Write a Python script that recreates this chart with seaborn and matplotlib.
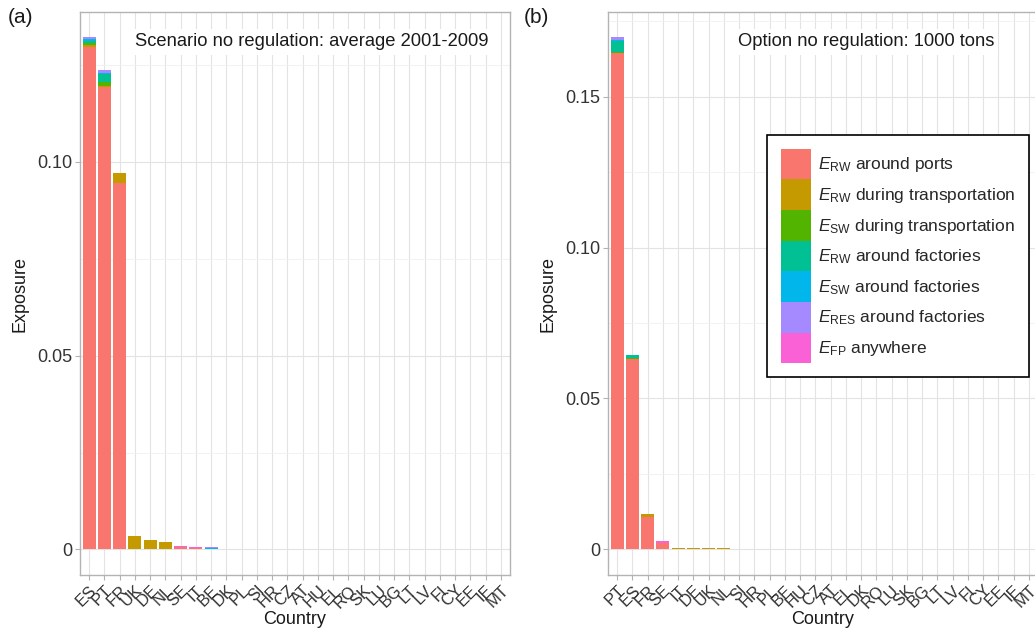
import matplotlib
matplotlib.use("Agg")
import matplotlib.pyplot as plt
import numpy as np
import pandas as pd
import seaborn as sns
from matplotlib.patches import Patch
from matplotlib.ticker import MultipleLocator, FixedLocator

# ---------------- data ----------------
countries_a = ["ES", "PT", "FR", "UK", "DE", "NL", "SE", "IT", "BE", "DK", "PL", "SI", "HR", "CZ",
               "AT", "HU", "EL", "RO", "SK", "LU", "BG", "LT", "LV", "FI", "CY", "EE", "IE", "MT"]
countries_b = ["PT", "ES", "FR", "SE", "IT", "DE", "UK", "NL", "SI", "HR", "PL", "BE", "HU", "CZ",
               "AT", "EL", "DK", "RO", "LU", "SK", "BG", "LT", "LV", "FI", "CY", "EE", "IE", "MT"]

components = ["RW around ports", "RW during transportation", "SW during transportation",
              "RW around factories", "SW around factories", "RES around factories", "FP anywhere"]
legend_labels = [r"$E_{\mathrm{RW}}$ around ports",
                 r"$E_{\mathrm{RW}}$ during transportation",
                 r"$E_{\mathrm{SW}}$ during transportation",
                 r"$E_{\mathrm{RW}}$ around factories",
                 r"$E_{\mathrm{SW}}$ around factories",
                 r"$E_{\mathrm{RES}}$ around factories",
                 r"$E_{\mathrm{FP}}$ anywhere"]
colors = ["#F8766D", "#C49A00", "#53B400", "#00C094", "#00B6EB", "#A58AFF", "#FB61D7"]

# Panel (a): Scenario no regulation, average 2001-2009
rw_ports_a = [0.1296, 0.1193, 0.0946, 0, 0, 0, 0.0005, 0.0003, 0, 0, 0, 0, 0, 0,
              0, 0, 0, 0, 0, 0, 0, 0, 0, 0, 0, 0, 0, 0]
rw_transp_a = [0.0005, 0.0003, 0.0026, 0.0034, 0.0024, 0.0019, 0, 0.0001, 0, 0, 0, 0, 0, 0,
               0, 0, 0, 0, 0, 0, 0, 0, 0, 0, 0, 0, 0, 0]
sw_transp_a = [0.0007, 0.0010, 0, 0, 0, 0, 0, 0, 0, 0, 0, 0, 0, 0,
               0, 0, 0, 0, 0, 0, 0, 0, 0, 0, 0, 0, 0, 0]
rw_fact_a = [0.0004, 0.0022, 0, 0, 0, 0, 0, 0, 0.0002, 0, 0, 0, 0, 0,
             0, 0, 0, 0, 0, 0, 0, 0, 0, 0, 0, 0, 0, 0]
sw_fact_a = [0.0005, 0.0002, 0, 0, 0, 0, 0, 0, 0.0002, 0, 0, 0, 0, 0,
             0, 0, 0, 0, 0, 0, 0, 0, 0, 0, 0, 0, 0, 0]
res_fact_a = [0.0005, 0.0007, 0, 0, 0, 0, 0, 0, 0.0001, 0, 0, 0, 0, 0,
              0, 0, 0, 0, 0, 0, 0, 0, 0, 0, 0, 0, 0, 0]
fp_any_a = [0, 0, 0, 0, 0, 0, 0.0003, 0.0001, 0, 0, 0, 0, 0, 0,
            0, 0, 0, 0, 0, 0, 0, 0, 0, 0, 0, 0, 0, 0]

# Panel (b): Option no regulation, 1000 tons
rw_ports_b = [0.1645, 0.0631, 0.0106, 0.0022, 0.0001, 0, 0, 0, 0, 0, 0, 0, 0, 0,
              0, 0, 0, 0, 0, 0, 0, 0, 0, 0, 0, 0, 0, 0]
rw_transp_b = [0.0001, 0, 0.0010, 0, 0.0002, 0.0004, 0.0004, 0.0004, 0, 0, 0, 0, 0, 0,
               0, 0, 0, 0, 0, 0, 0, 0, 0, 0, 0, 0, 0, 0]
sw_transp_b = [0.0004, 0.0004, 0, 0, 0, 0, 0, 0, 0, 0, 0, 0, 0, 0,
               0, 0, 0, 0, 0, 0, 0, 0, 0, 0, 0, 0, 0, 0]
rw_fact_b = [0.0036, 0.0008, 0, 0, 0, 0, 0, 0, 0, 0, 0, 0, 0, 0,
             0, 0, 0, 0, 0, 0, 0, 0, 0, 0, 0, 0, 0, 0]
sw_fact_b = [0.0001, 0, 0, 0, 0, 0, 0, 0, 0, 0, 0, 0, 0, 0,
             0, 0, 0, 0, 0, 0, 0, 0, 0, 0, 0, 0, 0, 0]
res_fact_b = [0.0012, 0, 0, 0, 0, 0, 0, 0, 0, 0, 0, 0, 0, 0,
              0, 0, 0, 0, 0, 0, 0, 0, 0, 0, 0, 0, 0, 0]
fp_any_b = [0, 0, 0, 0.0006, 0, 0, 0, 0, 0, 0, 0, 0, 0, 0,
            0, 0, 0, 0, 0, 0, 0, 0, 0, 0, 0, 0, 0, 0]

yticks_a = [0, 0.05, 0.10]
yticklabels_a = ["0", "0.05", "0.10"]
yticks_b = [0, 0.05, 0.10, 0.15]
yticklabels_b = ["0", "0.05", "0.10", "0.15"]

title_a = "Scenario no regulation: average 2001-2009"
title_b = "Option no regulation: 1000 tons"


def long_table(countries, series):
    rows = []
    for comp, vals in zip(components, series):
        for i, (c, v) in enumerate(zip(countries, vals)):
            rows.append({"pos": i, "country": c, "component": comp, "value": v})
    return pd.DataFrame(rows)


df_a = long_table(countries_a, [rw_ports_a, rw_transp_a, sw_transp_a, rw_fact_a,
                                sw_fact_a, res_fact_a, fp_any_a])
df_b = long_table(countries_b, [rw_ports_b, rw_transp_b, sw_transp_b, rw_fact_b,
                                sw_fact_b, res_fact_b, fp_any_b])

# ---------------- style ----------------
sns.set_theme(style="white")
plt.rcParams["font.family"] = ["Liberation Sans", "DejaVu Sans"]
plt.rcParams["mathtext.fontset"] = "custom"
plt.rcParams["mathtext.rm"] = "Liberation Sans"
plt.rcParams["mathtext.it"] = "Liberation Sans:italic"
plt.rcParams["mathtext.bf"] = "Liberation Sans:bold"

W, H = 1035, 630
fig = plt.figure(figsize=(W / 100, H / 100), dpi=100)
ax_a = fig.add_axes([80 / W, 1 - 575 / H, 430 / W, 563 / H])
ax_b = fig.add_axes([608 / W, 1 - 575 / H, 430 / W, 563 / H])

# seaborn stacks the first hue level on top -> reverse so "around ports" sits at the bottom
stack_order = components[::-1]
stack_palette = colors[::-1]


def draw(ax, df, countries, ylim, yticks, yticklabels, title, title_x):
    sns.histplot(data=df, x="pos", weights="value", hue="component",
                 hue_order=stack_order, palette=stack_palette, multiple="stack",
                 discrete=True, shrink=0.86, alpha=1, linewidth=0,
                 ax=ax, legend=False, zorder=3)
    ax.set_xlim(-0.6, len(countries) - 0.4)
    ax.set_ylim(*ylim)
    ax.xaxis.set_major_locator(FixedLocator(range(len(countries))))
    ax.set_xticklabels(countries, rotation=45, ha="right", va="top",
                       rotation_mode="anchor", fontsize=12, color="#333333")
    ax.set_yticks(yticks)
    ax.set_yticklabels(yticklabels, fontsize=13, color="#333333")
    ax.yaxis.set_minor_locator(MultipleLocator(0.025))
    ax.grid(True, which="major", color="#E3E3E3", linewidth=0.8, zorder=0)
    ax.grid(True, which="minor", axis="y", color="#F0F0F0", linewidth=0.6, zorder=0)
    ax.set_axisbelow(True)
    ax.tick_params(which="major", length=3.5, width=0.8, color="#B3B3B3",
                   direction="out", bottom=True, left=True, pad=2)
    ax.tick_params(which="minor", length=0)
    for s in ax.spines.values():
        s.set_color("#B3B3B3")
        s.set_linewidth(1.0)
    ax.set_xlabel("Country", fontsize=13, color="#1a1a1a", labelpad=0)
    ax.set_ylabel("Exposure", fontsize=13, color="#1a1a1a", labelpad=6)
    ax.text(title_x, 0.947, title, transform=ax.transAxes, ha="center", va="center",
            fontsize=13.2, color="#1a1a1a",
            bbox=dict(facecolor="white", edgecolor="none", pad=3))


draw(ax_a, df_a, countries_a, (-0.0066, 0.1387), yticks_a, yticklabels_a, title_a, 0.54)
draw(ax_b, df_b, countries_b, (-0.0085, 0.1781), yticks_b, yticklabels_b, title_b, 0.6)

handles = [Patch(facecolor=c, edgecolor="none") for c in colors]
leg = ax_b.legend(handles, legend_labels, loc="upper left",
                  bbox_to_anchor=(0.3706, 0.7815), frameon=True, fancybox=False,
                  edgecolor="black", framealpha=1, fontsize=12.5,
                  handlelength=1.73, handleheight=2.34, labelspacing=0,
                  handletextpad=0.42, borderpad=0.78, borderaxespad=0)
leg.get_frame().set_linewidth(1.2)
leg.set_zorder(10)

fig.text(8 / W, 1 - 8 / H, "(a)", fontsize=15, ha="left", va="top", color="#1a1a1a")
fig.text(524 / W, 1 - 8 / H, "(b)", fontsize=15, ha="left", va="top", color="#1a1a1a")

fig.savefig("out.png", dpi=100)
